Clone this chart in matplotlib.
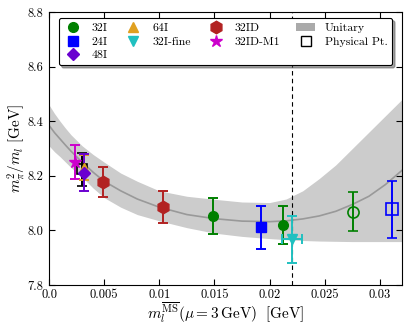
import matplotlib
matplotlib.use('Agg')
import matplotlib.pyplot as plt
from matplotlib.lines import Line2D
from matplotlib.patches import Patch

plt.rcParams['font.family'] = 'serif'
plt.rcParams['font.serif'] = ['cmr10', 'DejaVu Serif']
plt.rcParams['mathtext.fontset'] = 'cm'
plt.rcParams['axes.unicode_minus'] = False
plt.rcParams['font.size'] = 9

# fit curve
fit_x = [0.0, 0.0005, 0.001, 0.0015, 0.002, 0.003, 0.004, 0.005, 0.0065, 0.008,
         0.010, 0.0125, 0.015, 0.0175, 0.020, 0.0215, 0.023, 0.0245, 0.026,
         0.0275, 0.029, 0.0305, 0.032]
fit_mid = [8.385, 8.358, 8.335, 8.312, 8.290, 8.250, 8.213, 8.180, 8.145, 8.115,
           8.085, 8.058, 8.043, 8.034, 8.032, 8.035, 8.042, 8.053, 8.070,
           8.095, 8.125, 8.168, 8.220]
fit_hi = [8.460, 8.428, 8.400, 8.374, 8.350, 8.310, 8.278, 8.250, 8.210, 8.180,
          8.145, 8.125, 8.114, 8.104, 8.102, 8.115, 8.145, 8.190, 8.240,
          8.300, 8.360, 8.420, 8.480]
fit_lo = [8.310, 8.288, 8.270, 8.250, 8.230, 8.195, 8.155, 8.120, 8.085, 8.058,
          8.035, 8.010, 7.990, 7.978, 7.970, 7.966, 7.963, 7.961, 7.960,
          7.959, 7.959, 7.959, 7.959]

# ensembles
i32_x = [0.01485, 0.02122]
i32_y = [8.053, 8.020]
i32_e = [0.065, 0.070]
i24_x = [0.01921]
i24_y = [8.011]
i24_e = [0.078]
i48_x = [0.0032]
i48_y = [8.211]
i48_e = [0.068]
i64_x = [0.00314]
i64_y = [8.230]
i64_e = [0.045]
fine_x = [0.0220]
fine_y = [7.967]
fine_e = [0.087]
fine_xe = [0.0009]
id32_x = [0.00494, 0.01034]
id32_y = [8.178, 8.085]
id32_e = [0.055, 0.058]
m1_x = [0.00232]
m1_y = [8.250]
m1_e = [0.063]
phys_x = [0.00302]
phys_y = [8.224]
phys_e = [0.060]
# unitary-limit points (open markers)
u32_x = [0.02752]
u32_y = [8.069]
u32_e = [0.072]
u24_x = [0.03106]
u24_y = [8.077]
u24_e = [0.105]

ms_phys = 0.022

fig = plt.figure(figsize=(4.07, 3.31), dpi=100)
ax = fig.add_axes([49/407, 1-285/331, 353/407, 273/331])

ax.fill_between(fit_x, fit_lo, fit_hi, color='#cccccc', lw=0, zorder=1)
ax.plot(fit_x, fit_mid, color='#999999', lw=1.2, zorder=2)
ax.axvline(ms_phys, color='k', ls='--', lw=0.8, dashes=(4, 3), zorder=2)

ekw = dict(ls='none', capsize=3.5, elinewidth=1.4, capthick=1.4, zorder=3)
ax.errorbar(phys_x, phys_y, yerr=phys_e, color='k', marker='s', ms=7,
            mfc='none', mew=1.2, **ekw)
ax.errorbar(m1_x, m1_y, yerr=m1_e, color='#cc00cc', marker='*', ms=9, **ekw)
ax.errorbar(i64_x, i64_y, yerr=i64_e, color='#e0a020', marker='^', ms=7, **ekw)
ax.errorbar(i48_x, i48_y, yerr=i48_e, color='#6a00d0', marker='D', ms=6, **ekw)
ax.errorbar(id32_x, id32_y, yerr=id32_e, color='#b22222', marker='h', ms=9, **ekw)
ax.errorbar(i32_x, i32_y, yerr=i32_e, color='#008000', marker='o', ms=7, **ekw)
ax.errorbar(i24_x, i24_y, yerr=i24_e, color='#0000ff', marker='s', ms=6.5, **ekw)
ax.errorbar(fine_x, fine_y, yerr=fine_e, xerr=fine_xe, color='#20c0c0',
            marker='v', ms=7, **ekw)
ax.errorbar(u32_x, u32_y, yerr=u32_e, color='#008000', marker='o', ms=8,
            mfc='none', mew=1.2, **ekw)
ax.errorbar(u24_x, u24_y, yerr=u24_e, color='#0000ff', marker='s', ms=8,
            mfc='none', mew=1.2, **ekw)

ax.set_xlim(0.0, 0.032)
ax.set_ylim(7.8, 8.8)
ax.set_xticks([0.0, 0.005, 0.01, 0.015, 0.02, 0.025, 0.03])
ax.set_xticklabels(['0.0', '0.005', '0.01', '0.015', '0.02', '0.025', '0.03'])
ax.set_yticks([7.8, 8.0, 8.2, 8.4, 8.6, 8.8])
ax.set_yticklabels(['7.8', '8.0', '8.2', '8.4', '8.6', '8.8'])
ax.tick_params(direction='in', top=True, right=True, length=4, labelsize=9)
ax.tick_params(axis='x', pad=3)
ax.tick_params(axis='y', pad=4)
ax.set_xlabel(r'$m_l^{\overline{\rm MS}}(\mu = 3\,{\rm GeV})\ \ [{\rm GeV}]$',
              fontsize=11, labelpad=0)
ax.set_ylabel(r'$m_\pi^2/m_l\ [{\rm GeV}]$', fontsize=11, labelpad=0)

handles = [
    Line2D([], [], ls='none', marker='o', color='#008000', ms=7),
    Line2D([], [], ls='none', marker='s', color='#0000ff', ms=6.5),
    Line2D([], [], ls='none', marker='D', color='#6a00d0', ms=6),
    Line2D([], [], ls='none', marker='^', color='#e0a020', ms=7),
    Line2D([], [], ls='none', marker='v', color='#20c0c0', ms=7),
    Line2D([], [], ls='none', marker='h', color='#b22222', ms=9),
    Line2D([], [], ls='none', marker='*', color='#cc00cc', ms=9),
    Patch(facecolor='#aaaaaa', edgecolor='none'),
    Line2D([], [], ls='none', marker='s', color='k', mfc='none', ms=7, mew=1.0),
]
labels = ['32I', '24I', '48I', '64I', '32I-fine', '32ID', '32ID-M1',
          'Unitary', 'Physical Pt.']
leg = ax.legend(handles, labels, ncol=4, loc='upper center', fontsize=8.5,
                numpoints=1, frameon=True, fancybox=True, shadow=True,
                handlelength=1.6, handletextpad=0.8, columnspacing=1.35,
                labelspacing=0.3, borderpad=0.4, bbox_to_anchor=(0.5, 1.0))
leg.get_frame().set_edgecolor('k')
leg.get_frame().set_linewidth(0.8)

fig.savefig('out.png', dpi=100)
